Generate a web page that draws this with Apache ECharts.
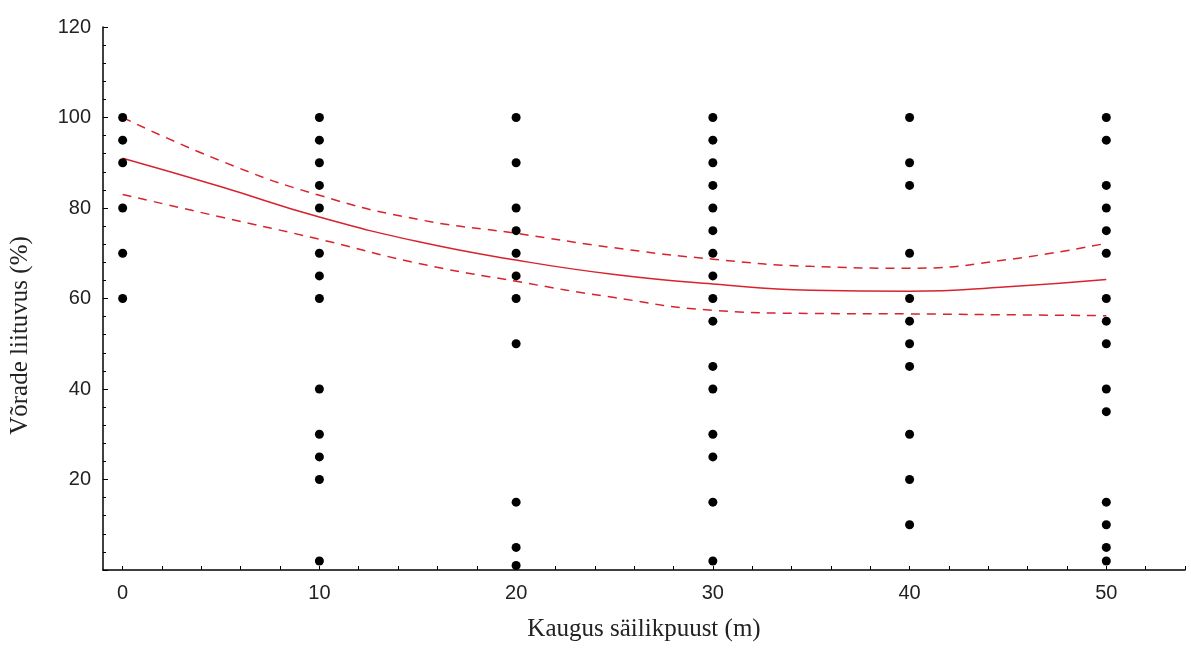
<!DOCTYPE html>
<html>
<head>
<meta charset="utf-8">
<script src="https://cdn.jsdelivr.net/npm/echarts@6/dist/echarts.min.js"></script>
<style>
  html, body { margin: 0; padding: 0; background: #fff; }
  #chart { width: 1191px; height: 648px; }
</style>
</head>
<body>
<div id="chart"></div>
<script>
// measured points: distance (m) -> crown closure (%)
const dist0 = [100, 95, 90, 80, 70, 60]
const dist10 = [100, 95, 90, 85, 80, 70, 65, 60, 40, 30, 25, 20, 2]
const dist20 = [100, 90, 80, 75, 70, 65, 60, 50, 15, 5, 1]
const dist30 = [100, 95, 90, 85, 80, 75, 70, 65, 60, 55, 45, 40, 30, 25, 15, 2]
const dist40 = [100, 90, 85, 70, 60, 55, 50, 45, 30, 20, 10]
const dist50 = [100, 95, 85, 80, 75, 70, 60, 55, 50, 40, 35, 15, 10, 5, 2]

const curveX = [0, 5, 10, 15, 20, 25, 30, 35, 40, 45, 50]
const fitLine = [91, 84.7, 78, 72.6, 68.5, 65.3, 63.2, 61.8, 61.6, 62.6, 64.2]
const upperBand = [100, 90.4, 82.8, 77.5, 74.4, 71.2, 68.7, 67.1, 66.7, 68.6, 72.2]
const lowerBand = [83, 78, 73.1, 67.8, 63.8, 60.2, 57.4, 56.7, 56.6, 56.4, 56.2]

const xLabels = [0, 10, 20, 30, 40, 50]
const xTicks = [0, 2, 4, 6, 8, 10, 12, 14, 16, 18, 20, 22, 24, 26, 28, 30, 32, 34, 36, 38, 40, 42, 44, 46, 48, 50, 52, 54]

const columns = [[0, dist0], [10, dist10], [20, dist20], [30, dist30], [40, dist40], [50, dist50]]
let points = []
columns.forEach(c => {
  c[1].forEach(v => points.push([c[0], v]))
})
const pair = arr => curveX.map((x, i) => [x, arr[i]])

const red = '#d8232f'
const labelFont = { color: '#222', fontSize: 20, fontFamily: 'Liberation Sans' }

let option = {
  animation: false,
  backgroundColor: '#fff',
  grid: { left: 103, right: 6, top: 27, bottom: 78 },
  xAxis: {
    type: 'value',
    min: -1,
    max: 54,
    name: 'Kaugus säilikpuust (m)',
    nameLocation: 'middle',
    nameGap: 47,
    nameTextStyle: { color: '#222', fontSize: 25, fontFamily: 'Liberation Serif' },
    axisLine: { onZero: false, lineStyle: { color: '#000', width: 1.5 } },
    axisTick: { inside: true, length: 4, customValues: xTicks, lineStyle: { color: '#000' } },
    axisLabel: Object.assign({ margin: 13, customValues: xLabels }, labelFont),
    splitLine: { show: false }
  },
  yAxis: {
    type: 'value',
    min: 0,
    max: 120,
    interval: 20,
    name: 'Võrade liituvus (%)',
    nameLocation: 'middle',
    nameGap: 70,
    nameTextStyle: { color: '#222', fontSize: 25, fontFamily: 'Liberation Serif', padding: [0, 74, 0, 0] },
    axisLine: { show: true, onZero: false, lineStyle: { color: '#000', width: 1.5 } },
    axisTick: { show: true, inside: true, length: 5, lineStyle: { color: '#000' } },
    minorTick: { show: true, splitNumber: 5, length: 3, lineStyle: { color: '#000' } },
    axisLabel: Object.assign({
      margin: 12,
      formatter: v => (v === 0 ? '' : String(v))
    }, labelFont),
    splitLine: { show: false }
  },
  series: [
    {
      name: 'upper',
      type: 'line',
      data: pair(upperBand),
      smooth: true,
      showSymbol: false,
      lineStyle: { color: red, width: 1.5, type: [9, 7] }
    },
    {
      name: 'fit',
      type: 'line',
      data: pair(fitLine),
      smooth: true,
      showSymbol: false,
      lineStyle: { color: red, width: 1.5 }
    },
    {
      name: 'lower',
      type: 'line',
      data: pair(lowerBand),
      smooth: true,
      showSymbol: false,
      lineStyle: { color: red, width: 1.5, type: [9, 7] }
    },
    {
      name: 'points',
      type: 'scatter',
      data: points,
      symbol: 'circle',
      symbolSize: 9,
      itemStyle: { color: '#000', opacity: 1 },
      z: 5
    }
  ]
}

let mychart = echarts.init(document.getElementById('chart'))
mychart.setOption(option)
</script>
</body>
</html>
